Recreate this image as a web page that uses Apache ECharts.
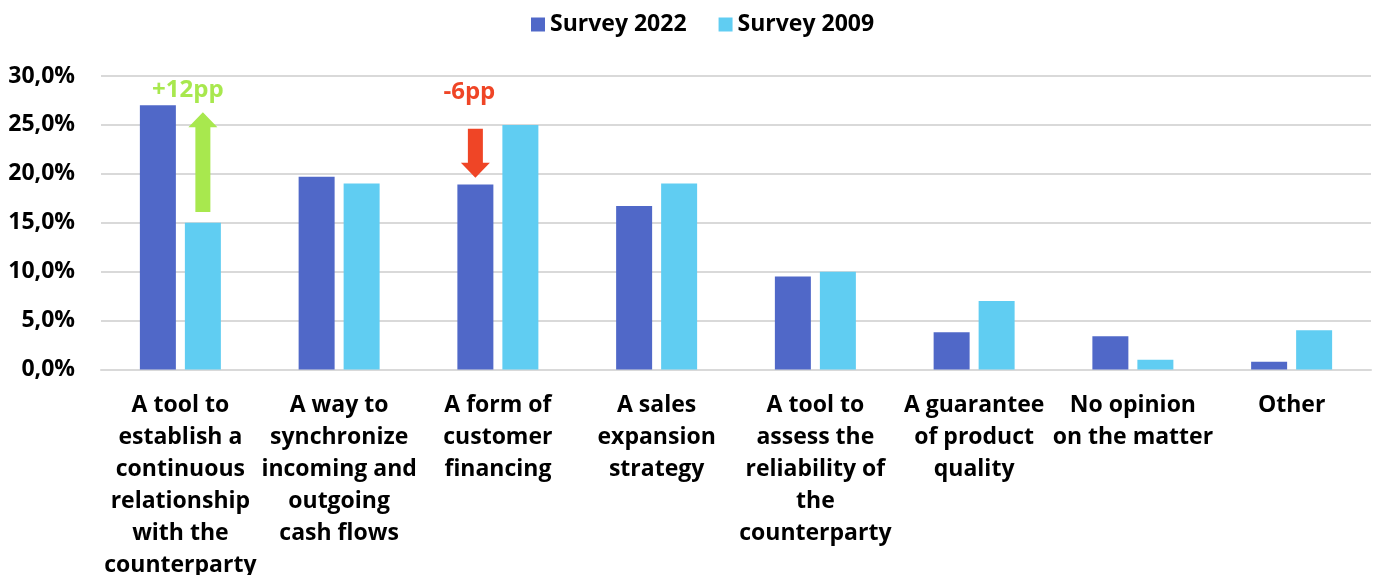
<!DOCTYPE html>
<html>
<head>
<meta charset="utf-8">
<style>
  html, body { margin: 0; padding: 0; background: #ffffff; }
  #chart { width: 1375px; height: 575px; }
</style>
<script src="https://cdn.jsdelivr.net/npm/echarts@6/dist/echarts.min.js"></script>
</head>
<body>
<div id="chart"></div>
<script>
// Categories (line breaks as they wrap under the axis)
const categories = [
  'A tool to\nestablish a\ncontinuous\nrelationship\nwith the\ncounterparty',
  'A way to\nsynchronize\nincoming and\noutgoing\ncash flows',
  'A form of\ncustomer\nfinancing',
  'A sales\nexpansion\nstrategy',
  'A tool to\nassess the\nreliability of\nthe\ncounterparty',
  'A guarantee\nof product\nquality',
  'No opinion\non the matter',
  'Other'
];

// Share of respondents, %
const survey2022 = [27.0, 19.7, 18.9, 16.7, 9.5, 3.8, 3.4, 0.8];
const survey2009 = [15.0, 19.0, 25.0, 19.0, 10.0, 7.0, 1.0, 4.0];

const seriesNames = ['Survey 2022', 'Survey 2009'];

// Change arrows: category, start value, end value, which bar (0 = 2022, 1 = 2009), label
const changeCategory = [0, 2];
const changeFrom = [16.1, 24.6];
const changeTo = [26.3, 19.6];
const changeBar = [1, 0];
const changeLabels = ['+12pp', '-6pp'];
const changeLabelValue = [28.6, 28.3];

const COLOR_2022 = '#5068C8';
const COLOR_2009 = '#60CDF2';
const COLOR_UP = '#A8E84E';
const COLOR_DOWN = '#EF4526';
const FONT = '"Open Sans", "Noto Sans", sans-serif';
const FONT_SIZE = 23;

const BAR_WIDTH = 36;
const BAR_GAP = 9;
const LABEL_SHIFT = [-15, -6];

const chart = echarts.init(document.getElementById('chart'), null, { renderer: 'canvas' });

const arrowData = changeCategory.map((c, i) => [c, changeFrom[i], changeTo[i], changeBar[i], i]);

chart.setOption({
  animation: false,
  backgroundColor: '#ffffff',
  legend: {
    top: 8,
    left: 526,
    itemWidth: 14,
    itemHeight: 14,
    itemGap: 32,
    icon: 'rect',
    textStyle: { fontFamily: FONT, fontWeight: 'bold', fontSize: FONT_SIZE, color: '#000' },
    data: seriesNames
  },
  grid: { left: 101, right: 4, top: 76, bottom: 205.5, containLabel: false, outerBoundsMode: 'none' },
  xAxis: {
    type: 'category',
    data: categories,
    axisTick: { show: false },
    axisLine: { show: true, lineStyle: { color: '#d9d9d9', width: 2 } },
    axisLabel: {
      interval: 0,
      margin: 20,
      fontFamily: FONT,
      fontWeight: 'bold',
      fontSize: FONT_SIZE,
      lineHeight: 32,
      color: '#000',
      verticalAlign: 'top'
    }
  },
  yAxis: {
    type: 'value',
    min: 0,
    max: 30,
    interval: 5,
    axisLine: { show: false },
    axisTick: { show: false },
    splitLine: { lineStyle: { color: '#d9d9d9', width: 2 } },
    axisLabel: {
      margin: 26,
      fontFamily: FONT,
      fontWeight: 'bold',
      fontSize: FONT_SIZE,
      color: '#000',
      formatter: v => v.toFixed(1).replace('.', ',') + '%'
    }
  },
  series: [
    {
      name: seriesNames[0],
      type: 'bar',
      data: survey2022,
      barWidth: BAR_WIDTH,
      barGap: (BAR_GAP / BAR_WIDTH * 100) + '%',
      itemStyle: { color: COLOR_2022 }
    },
    {
      name: seriesNames[1],
      type: 'bar',
      data: survey2009,
      barWidth: BAR_WIDTH,
      barGap: (BAR_GAP / BAR_WIDTH * 100) + '%',
      itemStyle: { color: COLOR_2009 }
    },
    {
      type: 'custom',
      silent: true,
      z: 5,
      data: arrowData,
      renderItem: function (params, api) {
        const cat = api.value(0);
        const from = api.coord([cat, api.value(1)]);
        const to = api.coord([cat, api.value(2)]);
        const bar = api.value(3);
        const idx = api.value(4);
        const offset = (BAR_WIDTH + BAR_GAP) / 2 * (bar === 0 ? -1 : 1);
        const x = from[0] + offset;
        const y0 = from[1];
        const y1 = to[1];
        const dir = y1 < y0 ? -1 : 1;   // -1 pointing up
        const shaftHalf = 7.5;
        const headHalf = 14.5;
        const headLen = 15;
        const yb = y1 - dir * headLen;
        const color = dir < 0 ? COLOR_UP : COLOR_DOWN;
        const labelPos = api.coord([cat, changeLabelValue[idx]]);
        return {
          type: 'group',
          children: [
            {
              type: 'polygon',
              shape: {
                points: [
                  [x - shaftHalf, y0], [x + shaftHalf, y0],
                  [x + shaftHalf, yb], [x + headHalf, yb],
                  [x, y1],
                  [x - headHalf, yb], [x - shaftHalf, yb]
                ]
              },
              style: { fill: color }
            },
            {
              type: 'text',
              x: x + LABEL_SHIFT[idx],
              y: labelPos[1],
              style: {
                text: changeLabels[idx],
                fill: color,
                fontFamily: FONT,
                fontWeight: 'bold',
                fontSize: 24,
                align: 'center',
                verticalAlign: 'middle'
              }
            }
          ]
        };
      }
    }
  ]
});
</script>
</body>
</html>
